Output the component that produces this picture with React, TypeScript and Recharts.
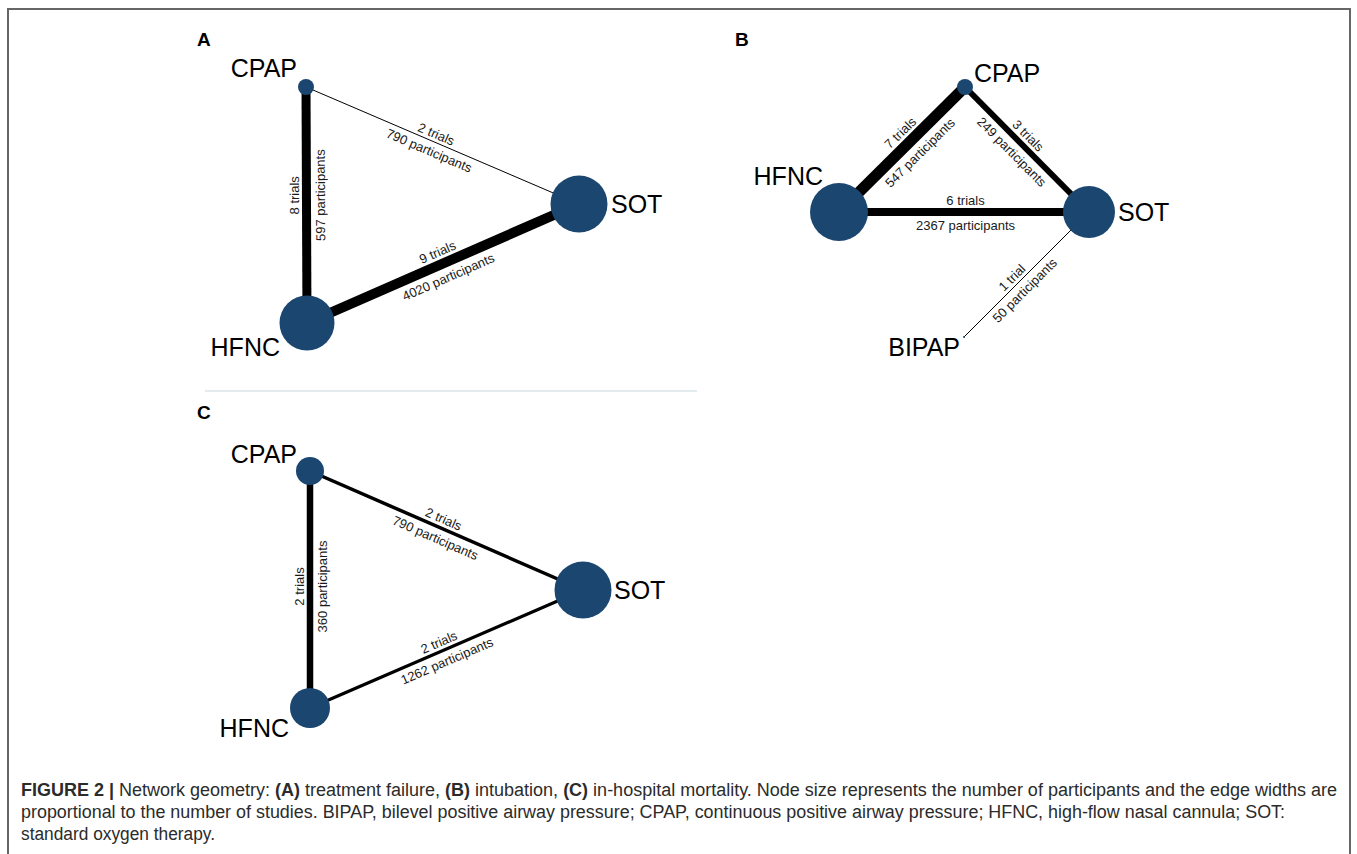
import React from 'react';
import { ScatterChart, Scatter, XAxis, YAxis } from 'recharts';

// ---------- data ----------
type Node = { id: string; x: number; y: number };
type Edge = { from: string; to: string; trials: number; participants: number };

// layout coordinates of each network (x right, y down)
const nodesA: Node[] = [
  { id: 'CPAP', x: 306, y: 87 },
  { id: 'HFNC', x: 307, y: 323 },
  { id: 'SOT', x: 579, y: 204 },
];
const edgesA: Edge[] = [
  { from: 'CPAP', to: 'HFNC', trials: 8, participants: 597 },
  { from: 'CPAP', to: 'SOT', trials: 2, participants: 790 },
  { from: 'HFNC', to: 'SOT', trials: 9, participants: 4020 },
];

const nodesB: Node[] = [
  { id: 'CPAP', x: 965, y: 87 },
  { id: 'HFNC', x: 839, y: 212 },
  { id: 'SOT', x: 1089, y: 212 },
  { id: 'BIPAP', x: 964, y: 337 },
];
const edgesB: Edge[] = [
  { from: 'HFNC', to: 'CPAP', trials: 7, participants: 547 },
  { from: 'CPAP', to: 'SOT', trials: 3, participants: 249 },
  { from: 'HFNC', to: 'SOT', trials: 6, participants: 2367 },
  { from: 'BIPAP', to: 'SOT', trials: 1, participants: 50 },
];

const nodesC: Node[] = [
  { id: 'CPAP', x: 310, y: 471 },
  { id: 'HFNC', x: 310, y: 708 },
  { id: 'SOT', x: 583, y: 590 },
];
const edgesC: Edge[] = [
  { from: 'CPAP', to: 'HFNC', trials: 2, participants: 360 },
  { from: 'CPAP', to: 'SOT', trials: 2, participants: 790 },
  { from: 'HFNC', to: 'SOT', trials: 2, participants: 1262 },
];

const panelTitles = [
  { text: 'A', x: 197, y: 46 },
  { text: 'B', x: 735, y: 46 },
  { text: 'C', x: 197, y: 419 },
];

// ---------- styles ----------
type Anchor = 'start' | 'end' | 'middle';
type PanelStyle = {
  radius: Record<string, number>;
  width: Record<string, number>;
  label: Record<string, [number, number, Anchor]>;
};

const styleA: PanelStyle = {
  radius: { CPAP: 8, HFNC: 27.5, SOT: 28.5 },
  width: { 'CPAP-HFNC': 9, 'CPAP-SOT': 1, 'HFNC-SOT': 10 },
  label: { CPAP: [-9, -10, 'end'], HFNC: [-27, 33, 'end'], SOT: [32, 9, 'start'] },
};
const styleB: PanelStyle = {
  radius: { CPAP: 8, HFNC: 29, SOT: 26, BIPAP: 1 },
  width: { 'HFNC-CPAP': 11, 'CPAP-SOT': 6, 'HFNC-SOT': 8, 'BIPAP-SOT': 1 },
  label: { CPAP: [9, -5, 'start'], HFNC: [-16, -27, 'end'], SOT: [29, 9, 'start'], BIPAP: [-4, 19, 'end'] },
};
const styleC: PanelStyle = {
  radius: { CPAP: 14, HFNC: 20, SOT: 28.5 },
  width: { 'CPAP-HFNC': 6.5, 'CPAP-SOT': 3.5, 'HFNC-SOT': 3.2 },
  label: { CPAP: [-13, -8, 'end'], HFNC: [-21, 29, 'end'], SOT: [31, 9, 'start'] },
};

const NODE_COLOR = '#1b4670';
const FONT = '"Liberation Sans", Arial, Helvetica, sans-serif';
const W = 1357;
const H = 854;

// ---------- build ----------
function buildPanel(nodes: Node[], edges: Edge[], st: PanelStyle) {
  const byId: Record<string, Node> = Object.fromEntries(nodes.map((n) => [n.id, n]));
  const edgeSeries = edges.map((e) => {
    const a = byId[e.from];
    const b = byId[e.to];
    return {
      key: `${e.from}-${e.to}`,
      width: st.width[`${e.from}-${e.to}`],
      data: [
        { x: a.x, y: a.y },
        { x: b.x, y: b.y },
      ],
    };
  });
  const edgeLabels = edges.flatMap((e) => {
    const a = byId[e.from];
    const b = byId[e.to];
    const ra = st.radius[a.id];
    const rb = st.radius[b.id];
    const dx = b.x - a.x;
    const dy = b.y - a.y;
    const L = Math.hypot(dx, dy);
    const t = (L + ra - rb) / (2 * L);
    const mx = a.x + dx * t;
    const my = a.y + dy * t;
    let ang = (Math.atan2(dy, dx) * 180) / Math.PI;
    if (ang > 85) ang -= 180;
    if (ang <= -95) ang += 180;
    const rad = (ang * Math.PI) / 180;
    const nx = Math.sin(rad);
    const ny = -Math.cos(rad);
    const w = st.width[`${e.from}-${e.to}`];
    const up = w / 2 + 3;
    const down = w / 2 + 14;
    return [
      { x: mx + nx * up, y: my + ny * up, text: `${e.trials} ${e.trials === 1 ? 'trial' : 'trials'}`, angle: ang },
      { x: mx - nx * down, y: my - ny * down, text: `${e.participants} participants`, angle: ang },
    ];
  });
  const nodeLabels = nodes.map((n) => {
    const [ox, oy, anchor] = st.label[n.id];
    return { x: n.x + ox, y: n.y + oy, text: n.id, anchor };
  });
  const nodePoints = nodes.map((n) => ({ x: n.x, y: n.y, r: st.radius[n.id] }));
  return { edgeSeries, edgeLabels, nodeLabels, nodePoints };
}

const panels = [
  { name: 'A', ...buildPanel(nodesA, edgesA, styleA) },
  { name: 'B', ...buildPanel(nodesB, edgesB, styleB) },
  { name: 'C', ...buildPanel(nodesC, edgesC, styleC) },
];

const NoShape = () => <g />;

const NodeShape = (p: any) => <circle cx={p.cx} cy={p.cy} r={p.payload.r} fill={NODE_COLOR} />;

const NodeLabelShape = (p: any) => (
  <text x={p.cx} y={p.cy} textAnchor={p.payload.anchor} fontSize={25} fontFamily={FONT} fill="#000">
    {p.payload.text}
  </text>
);

const EdgeLabelShape = (p: any) => (
  <text
    x={p.cx}
    y={p.cy}
    transform={`rotate(${p.payload.angle} ${p.cx} ${p.cy})`}
    textAnchor="middle"
    fontSize={13}
    fontFamily={FONT}
    fill="#1a1a1a"
  >
    {p.payload.text}
  </text>
);

const TitleShape = (p: any) => (
  <text x={p.cx} y={p.cy} fontSize={19} fontWeight="bold" fontFamily={FONT} fill="#000">
    {p.payload.text}
  </text>
);

export default function App() {
  const b = { fontWeight: 'bold' as const };
  return (
    <div style={{ position: 'absolute', left: 0, top: 0, width: W, height: H, background: '#fff', overflow: 'hidden' }}>
      <div
        style={{
          position: 'absolute',
          left: 7,
          top: 8,
          width: 1344,
          height: 900,
          border: '2px solid #666',
          boxSizing: 'border-box',
        }}
      />
      <div style={{ position: 'absolute', left: 205, top: 390, width: 492, height: 1.5, background: '#e4ebee' }} />
      <div style={{ position: 'absolute', left: 0, top: 0 }}>
        <ScatterChart width={W} height={H} margin={{ top: 0, right: 0, bottom: 0, left: 0 }}>
          <XAxis type="number" dataKey="x" domain={[0, W]} hide allowDataOverflow />
          <YAxis type="number" dataKey="y" domain={[0, H]} reversed hide allowDataOverflow />
          {panels.flatMap((pn) =>
            pn.edgeSeries.map((es) => (
              <Scatter
                key={`e-${pn.name}-${es.key}`}
                data={es.data}
                line={{ stroke: '#000', strokeWidth: es.width }}
                stroke="#000"
                strokeWidth={es.width}
                shape={NoShape}
                isAnimationActive={false}
              />
            ))
          )}
          {panels.map((pn) => (
            <Scatter key={`n-${pn.name}`} data={pn.nodePoints} shape={NodeShape} isAnimationActive={false} />
          ))}
          {panels.map((pn) => (
            <Scatter key={`nl-${pn.name}`} data={pn.nodeLabels} shape={NodeLabelShape} isAnimationActive={false} />
          ))}
          {panels.map((pn) => (
            <Scatter key={`el-${pn.name}`} data={pn.edgeLabels} shape={EdgeLabelShape} isAnimationActive={false} />
          ))}
          <Scatter data={panelTitles} shape={TitleShape} isAnimationActive={false} />
        </ScatterChart>
      </div>
      <svg width={W} height={H} style={{ position: 'absolute', left: 0, top: 0, pointerEvents: 'none' }}>
        <g fontFamily={FONT} fontSize={18} fill="#2b2b2b">
          <text x={21} y={796} textLength={1316} lengthAdjust="spacingAndGlyphs">
            <tspan {...b}>{'FIGURE 2 | '}</tspan>
            {'Network geometry: '}
            <tspan {...b}>(A)</tspan>
            {' treatment failure, '}
            <tspan {...b}>(B)</tspan>
            {' intubation, '}
            <tspan {...b}>(C)</tspan>
            {' in-hospital mortality. Node size represents the number of participants and the edge widths are'}
          </text>
          <text x={21} y={818} textLength={1264} lengthAdjust="spacingAndGlyphs">
            proportional to the number of studies. BIPAP, bilevel positive airway pressure; CPAP, continuous positive airway pressure; HFNC, high-flow nasal cannula; SOT:
          </text>
          <text x={21} y={840} textLength={194} lengthAdjust="spacingAndGlyphs">
            standard oxygen therapy.
          </text>
        </g>
      </svg>
    </div>
  );
}
